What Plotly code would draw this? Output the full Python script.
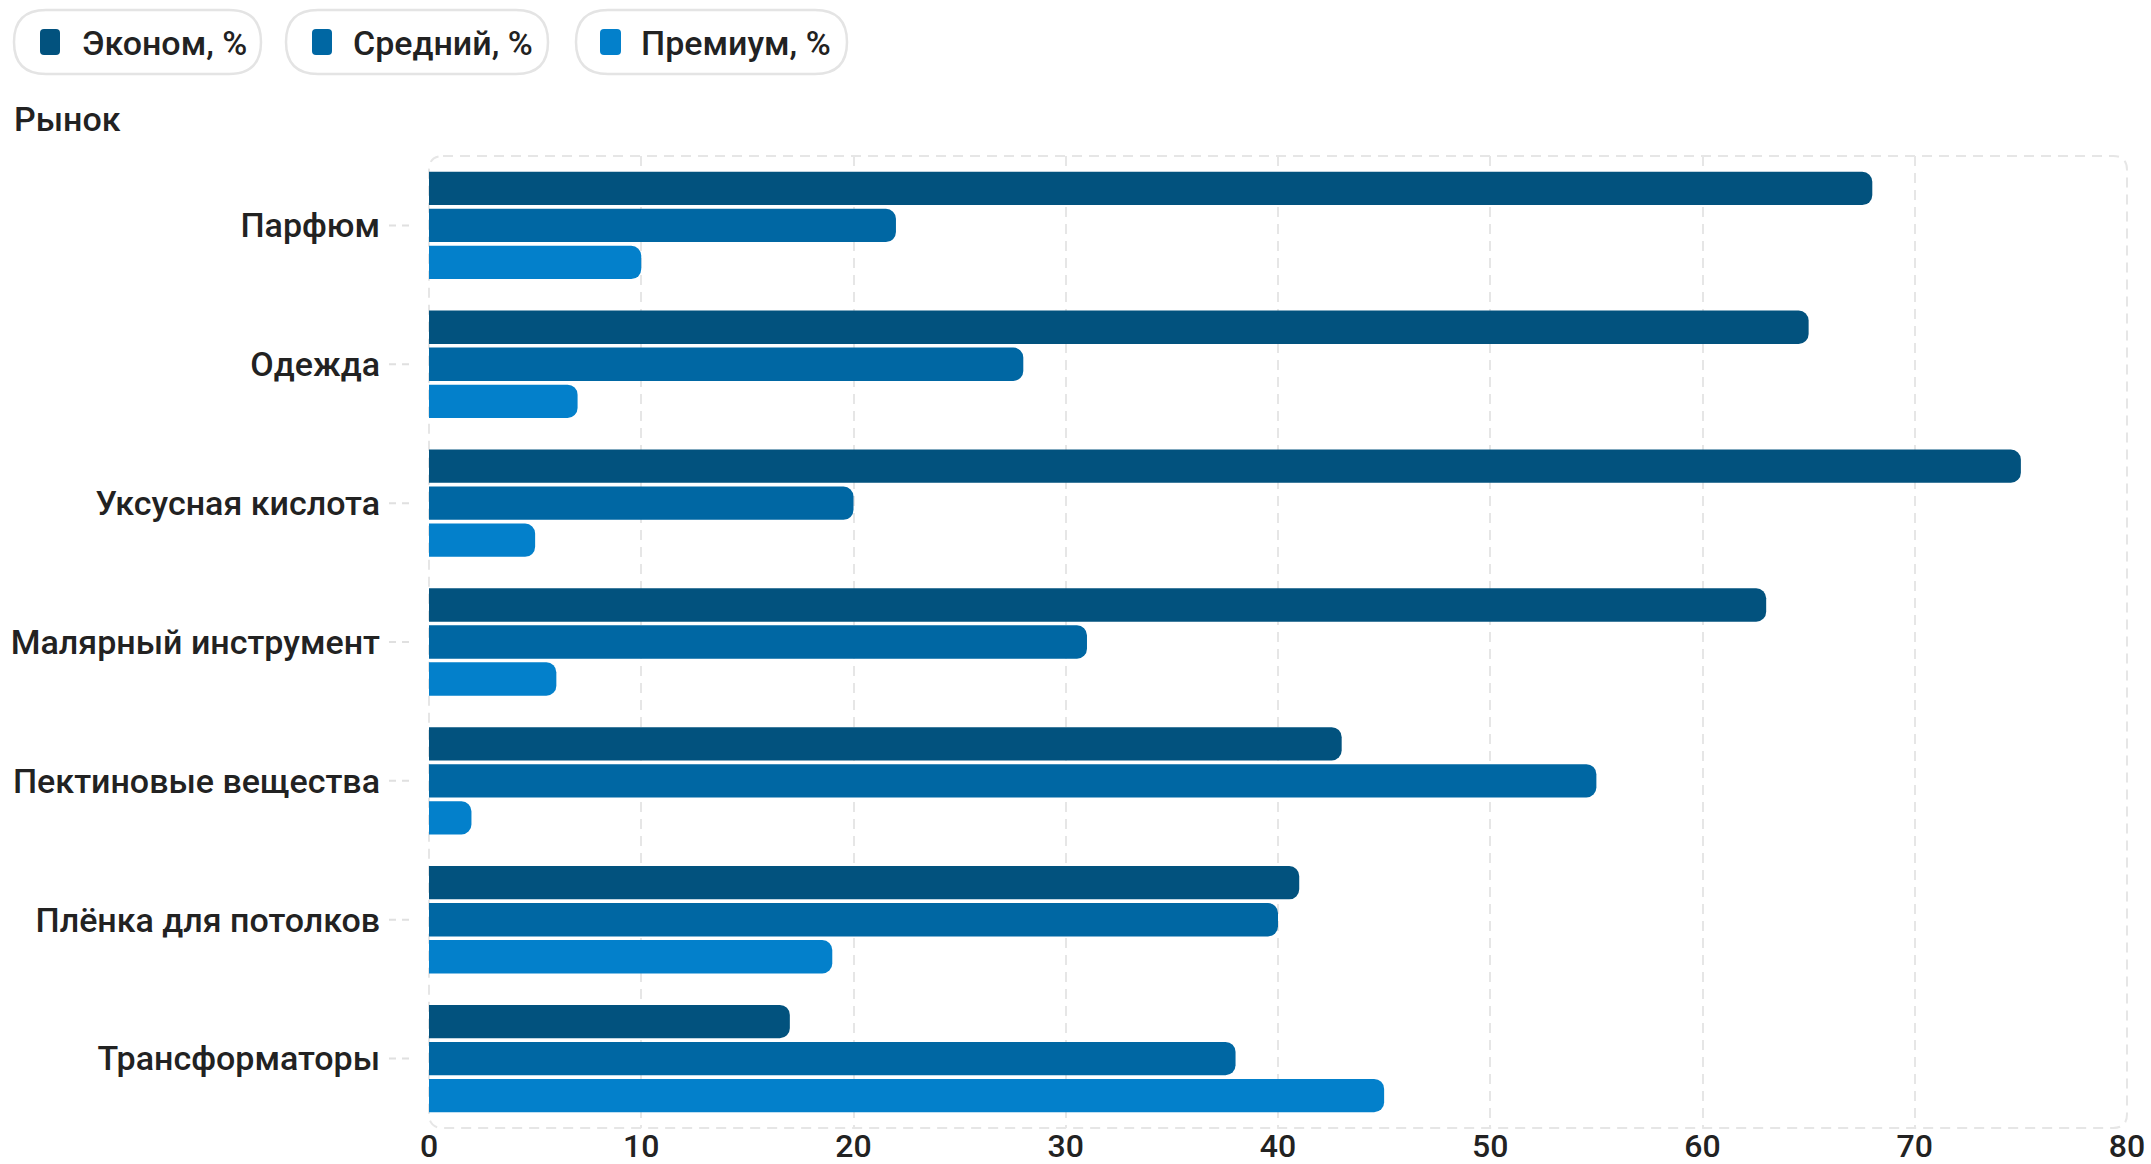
import plotly.graph_objects as go

categories = ["Парфюм", "Одежда", "Уксусная кислота", "Малярный инструмент",
              "Пектиновые вещества", "Плёнка для потолков", "Трансформаторы"]
econom = [68, 65, 75, 63, 43, 41, 17]
middle = [22, 28, 20, 31, 55, 40, 38]
premium = [10, 7, 5, 6, 2, 19, 45]
series_names = ["Эконом, %", "Средний, %", "Премиум, %"]
colors = ["#02527E", "#0067A3", "#0380CB"]
x_ticks = [0, 10, 20, 30, 40, 50, 60, 70, 80]
axis_title = "Рынок"

W, H = 2151, 1164
ML, MR, MT, MB = 429, 24, 156, 36
PW, PH = W - ML - MR, H - MT - MB

FONT = "Roboto"
TXT = "#222222"
FS = 34

fig = go.Figure()
for name, vals, col in zip(series_names, [econom, middle, premium], colors):
    fig.add_trace(go.Bar(
        y=categories, x=vals, name=name, orientation="h",
        marker=dict(color=col, cornerradius=10, line=dict(width=0)),
        showlegend=False,
    ))

fig.update_layout(
    width=W, height=H,
    margin=dict(l=ML, r=MR, t=MT, b=MB, autoexpand=False),
    paper_bgcolor="white", plot_bgcolor="white",
    barmode="group", bargap=0.2, bargroupgap=0.1,
    font=dict(family=FONT, color=TXT, size=FS, weight=500),
)
fig.update_xaxes(
    range=[0, 80], tickvals=x_ticks, ticktext=[str(v) for v in x_ticks],
    showgrid=True, gridcolor="#E6E6E6", gridwidth=2, griddash="10px,7px",
    zeroline=False, showline=False, ticks="", ticklabelstandoff=-4,
    tickfont=dict(size=32, family=FONT, color=TXT, weight=500),
)
fig.update_yaxes(
    autorange="reversed", showgrid=False, zeroline=False, showline=False,
    ticks="", ticklabelstandoff=48,
    tickfont=dict(size=FS, family=FONT, color=TXT, weight=500),
)

shapes = []
# rounded dashed plot border (paper coords)
rx, ry = 14 / PW, 14 / PH
path = (f"M {rx} 1 L {1-rx} 1 Q 1 1 1 {1-ry} L 1 {ry} Q 1 0 {1-rx} 0 "
        f"L {rx} 0 Q 0 0 0 {ry} L 0 {1-ry} Q 0 1 {rx} 1 Z")
shapes.append(dict(type="path", xref="paper", yref="paper", path=path,
                   line=dict(color="#E6E6E6", width=2, dash="10px,7px"),
                   layer="below"))
# small dashed tick marks left of the plot
for c in categories:
    shapes.append(dict(type="line", xref="x domain", yref="y",
                       x0=-40 / PW, x1=-18 / PW, y0=c, y1=c,
                       line=dict(color="#E0E0E0", width=2, dash="7px,6px")))

# custom pill legend (pixel -> paper)
def px(x):
    return (x - ML) / PW

def py(y):
    return 1 - (y - MT) / PH

pills = [(14, 261, 40, 60, 80), (286, 548, 312, 332, 351), (576, 847, 600, 621, 639)]
annotations = []
for (x0, x1, m0, m1, tx), name, col in zip(pills, series_names, colors):
    r = 32
    yt, yb = 10, 74
    ptxt = (f"M {px(x0 + r)} {py(yt)} L {px(x1 - r)} {py(yt)} "
            f"Q {px(x1)} {py(yt)} {px(x1)} {py(42)} "
            f"Q {px(x1)} {py(yb)} {px(x1 - r)} {py(yb)} "
            f"L {px(x0 + r)} {py(yb)} "
            f"Q {px(x0)} {py(yb)} {px(x0)} {py(42)} "
            f"Q {px(x0)} {py(yt)} {px(x0 + r)} {py(yt)} Z")
    shapes.append(dict(type="path", xref="paper", yref="paper", path=ptxt,
                       line=dict(color="#E4E4E4", width=2.5), fillcolor="white"))
    # marker square with rounded corners
    mr = 4
    ya, yb2 = 29, 55
    mtxt = (f"M {px(m0 + mr)} {py(ya)} L {px(m1 - mr)} {py(ya)} "
            f"Q {px(m1)} {py(ya)} {px(m1)} {py(ya + mr)} "
            f"L {px(m1)} {py(yb2 - mr)} Q {px(m1)} {py(yb2)} {px(m1 - mr)} {py(yb2)} "
            f"L {px(m0 + mr)} {py(yb2)} Q {px(m0)} {py(yb2)} {px(m0)} {py(yb2 - mr)} "
            f"L {px(m0)} {py(ya + mr)} Q {px(m0)} {py(ya)} {px(m0 + mr)} {py(ya)} Z")
    shapes.append(dict(type="path", xref="paper", yref="paper", path=mtxt,
                       line=dict(width=0), fillcolor=col))
    annotations.append(dict(xref="paper", yref="paper", x=px(tx), y=py(43),
                            xanchor="left", yanchor="middle", showarrow=False,
                            text=name, font=dict(size=FS, family=FONT, color=TXT, weight=500)))

annotations.append(dict(xref="paper", yref="paper", x=px(12), y=py(119),
                        xanchor="left", yanchor="middle", showarrow=False,
                        text=axis_title, font=dict(size=FS, family=FONT, color=TXT, weight=500)))

fig.update_layout(shapes=shapes, annotations=annotations)
fig.write_html("out.html")
